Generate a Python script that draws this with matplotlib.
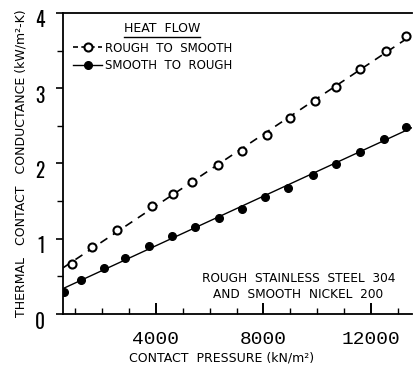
import numpy as np
import matplotlib
matplotlib.use("Agg")
import matplotlib.pyplot as plt
from matplotlib.lines import Line2D
from matplotlib.ticker import MultipleLocator, FixedLocator
from matplotlib.transforms import ScaledTranslation

# Heat flow from rough to smooth surface (open circles)
p_r2s = [860, 1630, 2540, 3840, 4640, 5360, 6320, 7190, 8140, 8980, 9910, 10720, 11590, 12560, 13320]
h_r2s = [0.66, 0.89, 1.12, 1.44, 1.60, 1.76, 1.98, 2.16, 2.38, 2.60, 2.83, 3.02, 3.25, 3.50, 3.69]

# Heat flow from smooth to rough surface (filled circles)
p_s2r = [580, 1210, 2080, 2850, 3740, 4580, 5450, 6350, 7190, 8050, 8920, 9830, 10720, 11610, 12480, 13320]
h_s2r = [0.29, 0.45, 0.61, 0.75, 0.91, 1.04, 1.16, 1.27, 1.40, 1.55, 1.68, 1.85, 1.99, 2.15, 2.32, 2.49]

x_ticks = [4000, 8000, 12000]
x_ticklabels = ["4000", "8000", "12000"]
y_ticks = [0, 1, 2, 3, 4]
y_ticklabels = ["0", "1", "2", "3", "4"]

x_min, x_max = 540, 13530

fig = plt.figure(figsize=(4.13, 3.69), dpi=100)
ax = fig.add_axes([0.1525, 0.149, 0.845, 0.816])

# straight-line fits through each data set
xx = np.array([x_min, x_max])
k1, b1 = np.polyfit(p_r2s, h_r2s, 1)
k2, b2 = np.polyfit(p_s2r, h_s2r, 1)
ax.plot(xx, k1 * xx + b1, color="black", lw=1.2, ls=(0, (5, 4)))
ax.plot(xx, k2 * xx + b2, color="black", lw=1.0, ls="-")

ax.plot(p_r2s, h_r2s, ls="none", marker="o", ms=5.8, mfc="white", mec="black", mew=1.5)
ax.plot(p_s2r, h_s2r, ls="none", marker="o", ms=5.5, mfc="black", mec="black")

ax.set_xlim(x_min, x_max)
ax.set_ylim(0, 4)

for s in ["left", "bottom", "top"]:
    ax.spines[s].set_linewidth(1.3)
ax.spines["right"].set_visible(False)

ax.xaxis.set_major_locator(FixedLocator(x_ticks))
ax.xaxis.set_minor_locator(MultipleLocator(1000))
ax.yaxis.set_major_locator(FixedLocator(y_ticks))
ax.yaxis.set_minor_locator(MultipleLocator(0.5))
ax.set_xticklabels(x_ticklabels, family=["Liberation Mono", "DejaVu Sans Mono"], fontsize=14)
ax.set_yticklabels(y_ticklabels, family=["Oswald", "Liberation Mono"], fontsize=14,
                   fontweight="bold")

ax.tick_params(axis="x", which="major", direction="in", length=8, width=1.4, pad=12)
ax.tick_params(axis="x", which="minor", direction="in", length=4, width=1.0)
ax.tick_params(axis="y", which="major", direction="out", length=5, width=1.2, pad=8)
ax.tick_params(axis="y", which="minor", direction="out", length=4, width=1.0)

# y tick numerals sit a little below their ticks
shift = ScaledTranslation(0, -6 / 100, fig.dpi_scale_trans)
for lab in ax.get_yticklabels():
    lab.set_transform(lab.get_transform() + shift)

ax.set_xlabel("CONTACT  PRESSURE (kN/m²)", fontsize=9)
ax.xaxis.set_label_coords((222 - 63) / 349, -0.125)
ax.set_ylabel("THERMAL   CONTACT   CONDUCTANCE (kW/m²-K)", fontsize=9, labelpad=5)

# legend with underlined heading
handles = [
    Line2D([], [], color="black", lw=1.2, ls=(0, (3, 2)), marker="o", ms=5.8,
           mfc="white", mec="black", mew=1.5),
    Line2D([], [], color="black", lw=1.0, marker="o", ms=5.5, mfc="black", mec="black"),
]
labels = ["ROUGH  TO  SMOOTH", "SMOOTH  TO  ROUGH"]
leg = ax.legend(handles, labels, loc="upper left", bbox_to_anchor=(0.03, 0.905),
                frameon=False, fontsize=8.5, handlelength=2.4, handletextpad=0.3,
                labelspacing=0.35, borderpad=0, borderaxespad=0, numpoints=1)

title = fig.text(124 / 413, 1 - 29 / 369, "HEAT  FLOW", fontsize=9, ha="left", va="center")
fig.canvas.draw()
bb = title.get_window_extent()
W, H = fig.bbox.width, fig.bbox.height
fig.add_artist(Line2D([bb.x0 / W, bb.x1 / W], [(bb.y0 - 1.5) / H] * 2,
                      transform=fig.transFigure, color="black", lw=1.0))

ax.text(0.675, 0.09, "ROUGH  STAINLESS  STEEL  304\nAND  SMOOTH  NICKEL  200",
        transform=ax.transAxes, fontsize=8.7, ha="center", va="center",
        multialignment="center", linespacing=1.3)

fig.savefig("out.png", dpi=100)
